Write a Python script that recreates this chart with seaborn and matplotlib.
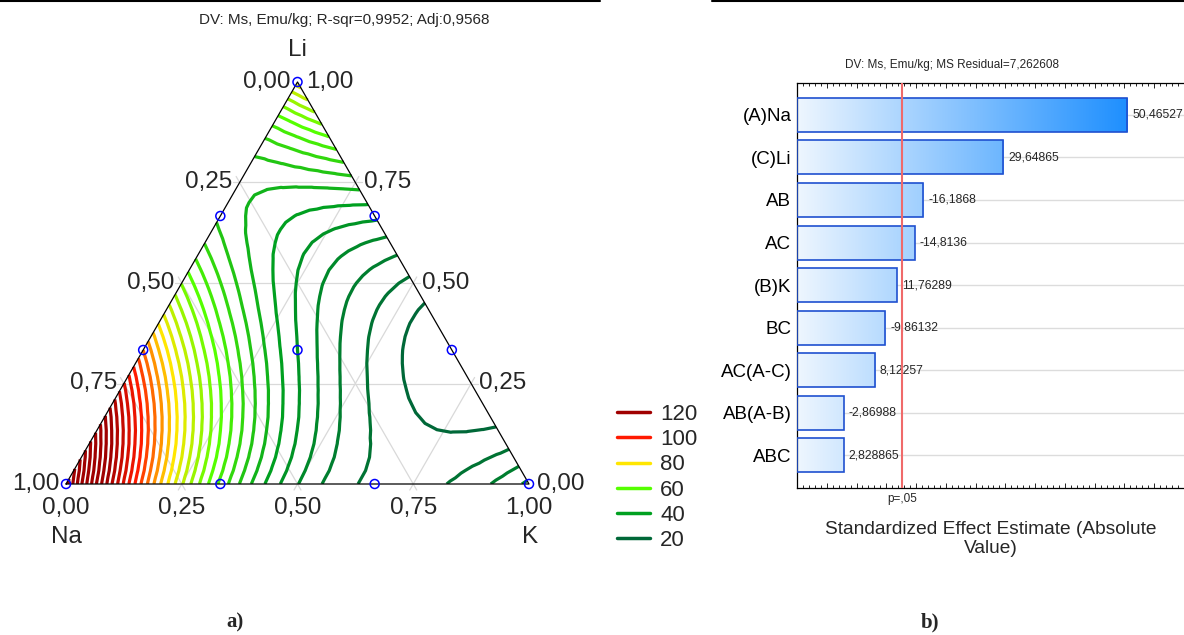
import numpy as np
import matplotlib
matplotlib.use("Agg")
import matplotlib.pyplot as plt
import matplotlib.tri as mtri
from matplotlib.colors import LinearSegmentedColormap, Normalize
from matplotlib.lines import Line2D
from matplotlib.ticker import MultipleLocator, NullFormatter
import seaborn as sns

# a) simplex-lattice mixture design, Ms (emu/kg) at each point
na = [1, 0, 0, 2/3, 1/3, 2/3, 1/3, 0, 0, 1/3]
k = [0, 1, 0, 1/3, 2/3, 0, 0, 2/3, 1/3, 1/3]
li = [0, 0, 1, 0, 0, 1/3, 2/3, 1/3, 2/3, 1/3]
ms = [154, 33, 78, 55, 23, 92, 47, 16, 37, 36]

levels = np.arange(20, 160, 4)
legend_vals = [120, 100, 80, 60, 40, 20]
legend_colors = ['#a00000', '#ff1a00', '#ffe600', '#55ff00', '#00a020', '#006838']
tick_vals = [0, 0.25, 0.5, 0.75, 1.0]

# b) Pareto chart of standardized effects
terms = ['(A)Na', '(C)Li', 'AB', 'AC', '(B)K', 'BC', 'AC(A-C)', 'AB(A-B)', 'ABC']
effects = [50.46527, 29.64865, -16.1868, -14.8136, 11.76289, -9.86132, 8.12257, -2.86988, 2.828865]
p_crit = 12.7062

W, H = 1184, 635
S3 = np.sqrt(3) / 2


def model_cols(a, b, c):
    # full Scheffe cubic
    a, b, c = np.asarray(a), np.asarray(b), np.asarray(c)
    return np.column_stack([a, b, c, a*b, a*c, b*c,
                            a*b*(a-b), a*c*(a-c), b*c*(b-c), a*b*c])


def cart(a, b, c):
    # Na bottom-left, K bottom-right, Li top
    b, c = np.asarray(b), np.asarray(c)
    return b + c / 2, c * S3


def fmt(v):
    return f"{v:.2f}".replace('.', ',')


sns.set_theme(style='white')
plt.rcParams['font.family'] = ['Liberation Sans', 'DejaVu Sans']

fig = plt.figure(figsize=(W / 100, H / 100), dpi=100)

# ---------------- ternary contour plot ----------------
ax = fig.add_axes([66 / W, (H - 484) / H, 463 / W, 402 / H])
ax.set_xlim(0, 1)
ax.set_ylim(0, S3)
ax.axis('off')

coef, *_ = np.linalg.lstsq(model_cols(na, k, li), np.array(ms, float), rcond=None)

n = 30
ga, gb = [], []
for i in range(n + 1):
    for j in range(n + 1 - i):
        ga.append(i / n)
        gb.append(j / n)
ga, gb = np.array(ga), np.array(gb)
gc = np.clip(1 - ga - gb, 0, 1)
gx, gy = cart(ga, gb, gc)
z = model_cols(ga, gb, gc) @ coef
tri = mtri.Triangulation(gx, gy)

cmap = LinearSegmentedColormap.from_list('ms', list(zip(np.linspace(0, 1, 6), legend_colors[::-1])))
norm = Normalize(20, 120, clip=True)
ax.tricontour(tri, z, levels=levels, colors=[cmap(norm(l)) for l in levels],
              linewidths=2.3, zorder=2)

# grid lines
ext = 0.015
for v in [0.25, 0.5, 0.75]:
    for p0, p1 in [((1 - v, 0, v), (0, 1 - v, v)),
                   ((1 - v, v, 0), (0, v, 1 - v)),
                   ((v, 1 - v, 0), (v, 0, 1 - v))]:
        x0, y0 = cart(*p0)
        x1, y1 = cart(*p1)
        d = np.hypot(x1 - x0, y1 - y0)
        ux, uy = (x1 - x0) / d, (y1 - y0) / d
        ax.plot([x0 - ux * ext, x1 + ux * ext], [y0 - uy * ext, y1 + uy * ext],
                color='#d9d9d9', lw=0.9, zorder=1, clip_on=False)

tx, ty = cart([1, 0, 0, 1], [0, 1, 0, 0], [0, 0, 1, 0])
ax.plot(tx, ty, color='black', lw=0.9, zorder=3, clip_on=False)

px, py = cart(na, k, li)
sns.scatterplot(x=px, y=py, ax=ax, marker='o', s=42, facecolors='none',
                edgecolor='#0000ff', linewidth=1.1, zorder=5, clip_on=False)

fs = 17.5
for v in tick_vals:
    x, y = cart(v, 0, 1 - v)
    ax.annotate(fmt(v), (x, y), xytext=(-5, 0), textcoords='offset points',
                ha='right', va='center', fontsize=fs)
    x, y = cart(0, 1 - v, v)
    ax.annotate(fmt(v), (x, y), xytext=(6, 0), textcoords='offset points',
                ha='left', va='center', fontsize=fs)
    x, y = cart(1 - v, v, 0)
    ax.annotate(fmt(v), (x, y), xytext=(0, -17), textcoords='offset points',
                ha='center', va='center', fontsize=fs)

for lab, p, off in [('Li', (0, 0, 1), (0, 23)), ('Na', (1, 0, 0), (0, -38)), ('K', (0, 1, 0), (1, -38))]:
    ax.annotate(lab, cart(*p), xytext=off, textcoords='offset points',
                ha='center', va='center', fontsize=fs)

handles = [Line2D([], [], color=c, lw=2.5) for c in legend_colors]
ax.legend(handles, [str(v) for v in legend_vals], loc='upper left',
          bbox_to_anchor=(617 / W, 1 - 404 / H), bbox_transform=fig.transFigure,
          frameon=False, fontsize=16, borderpad=0, borderaxespad=0,
          handlelength=1.5, handletextpad=0.45, labelspacing=0.19)

fig.text(344 / W, 1 - 20 / H, 'DV: Ms, Emu/kg; R-sqr=0,9952; Adj:0,9568',
         ha='center', va='center', fontsize=11)

# ---------------- Pareto chart ----------------
xmin, xmax = -5, 60
axp = fig.add_axes([797 / W, (H - 488) / H, (1184 - 797) / W, 405 / H])
vals = np.abs(effects)
for i in range(len(terms)):
    axp.axhline(i, color='#dcdcdc', lw=1, zorder=0)
sns.barplot(x=vals, y=terms, orient='h', ax=axp, width=0.8, color='white',
            edgecolor='#1f50d0', linewidth=1.2, errorbar=None, zorder=3)

grad = np.linspace(0, 1, 256).reshape(1, -1)
gcmap = LinearSegmentedColormap.from_list('g', ['#eef6fe', '#1e8fff'])
for patch in axp.patches:
    w = patch.get_width()
    patch.set_x(xmin)
    patch.set_width(w - xmin)
    patch.set_facecolor('none')
    y0, h = patch.get_y(), patch.get_height()
    im = axp.imshow(grad, cmap=gcmap, extent=[xmin, vals.max(), y0 + h, y0],
                    aspect='auto', zorder=2, interpolation='bilinear')
    im.set_clip_path(patch)

for i, (v, e) in enumerate(zip(vals, effects)):
    lab = f"{e:.{7 if e > 0 else 6}g}".replace('.', ',')
    axp.annotate(lab, (v, i), xytext=(3.5, 0), textcoords='offset points',
                 ha='left', va='center', fontsize=8.8, zorder=4)

axp.axvline(p_crit, color='#f06a6a', lw=1.5, zorder=4)
axp.annotate('p=,05', (p_crit, 0), xycoords=('data', 'axes fraction'),
             xytext=(0, -8), textcoords='offset points', ha='center', va='center', fontsize=8.5)

axp.set_xlim(xmin, xmax)
axp.set_ylim(len(terms) - 1 + 0.77, -0.75)
axp.xaxis.set_major_locator(MultipleLocator(5))
axp.xaxis.set_minor_locator(MultipleLocator(1))
axp.xaxis.set_major_formatter(NullFormatter())
axp.tick_params(axis='x', which='both', direction='in', top=True, bottom=True, color='black')
axp.tick_params(axis='x', which='major', length=3.5, width=0.6)
axp.tick_params(axis='x', which='minor', length=2, width=0.6)
axp.tick_params(axis='y', which='major', direction='in', left=True, length=3, width=0.6,
                labelsize=13.5, pad=4, colors='black')
axp.set_ylabel('')
axp.set_xlabel('Standardized Effect Estimate (Absolute\nValue)', fontsize=13.8,
               labelpad=20, linespacing=1.2)
for side in ['left', 'top', 'bottom']:
    axp.spines[side].set_color('black')
    axp.spines[side].set_linewidth(0.9)
axp.spines['right'].set_visible(False)

fig.text(952 / W, 1 - 65 / H, 'DV: Ms, Emu/kg; MS Residual=7,262608',
         ha='center', va='center', fontsize=8.5)

fig.text(235 / W, 1 - 622 / H, 'a)', ha='center', va='center', fontsize=15,
         fontweight='bold', family=['Liberation Serif', 'DejaVu Serif'])
fig.text(930 / W, 1 - 622 / H, 'b)', ha='center', va='center', fontsize=15,
         fontweight='bold', family=['Liberation Serif', 'DejaVu Serif'])

fig.add_artist(Line2D([0, 600 / W], [1 - 1 / H] * 2, color='black', lw=1.5))
fig.add_artist(Line2D([712 / W, 1], [1 - 1 / H] * 2, color='black', lw=1.5))

fig.savefig('out.png', dpi=100)
